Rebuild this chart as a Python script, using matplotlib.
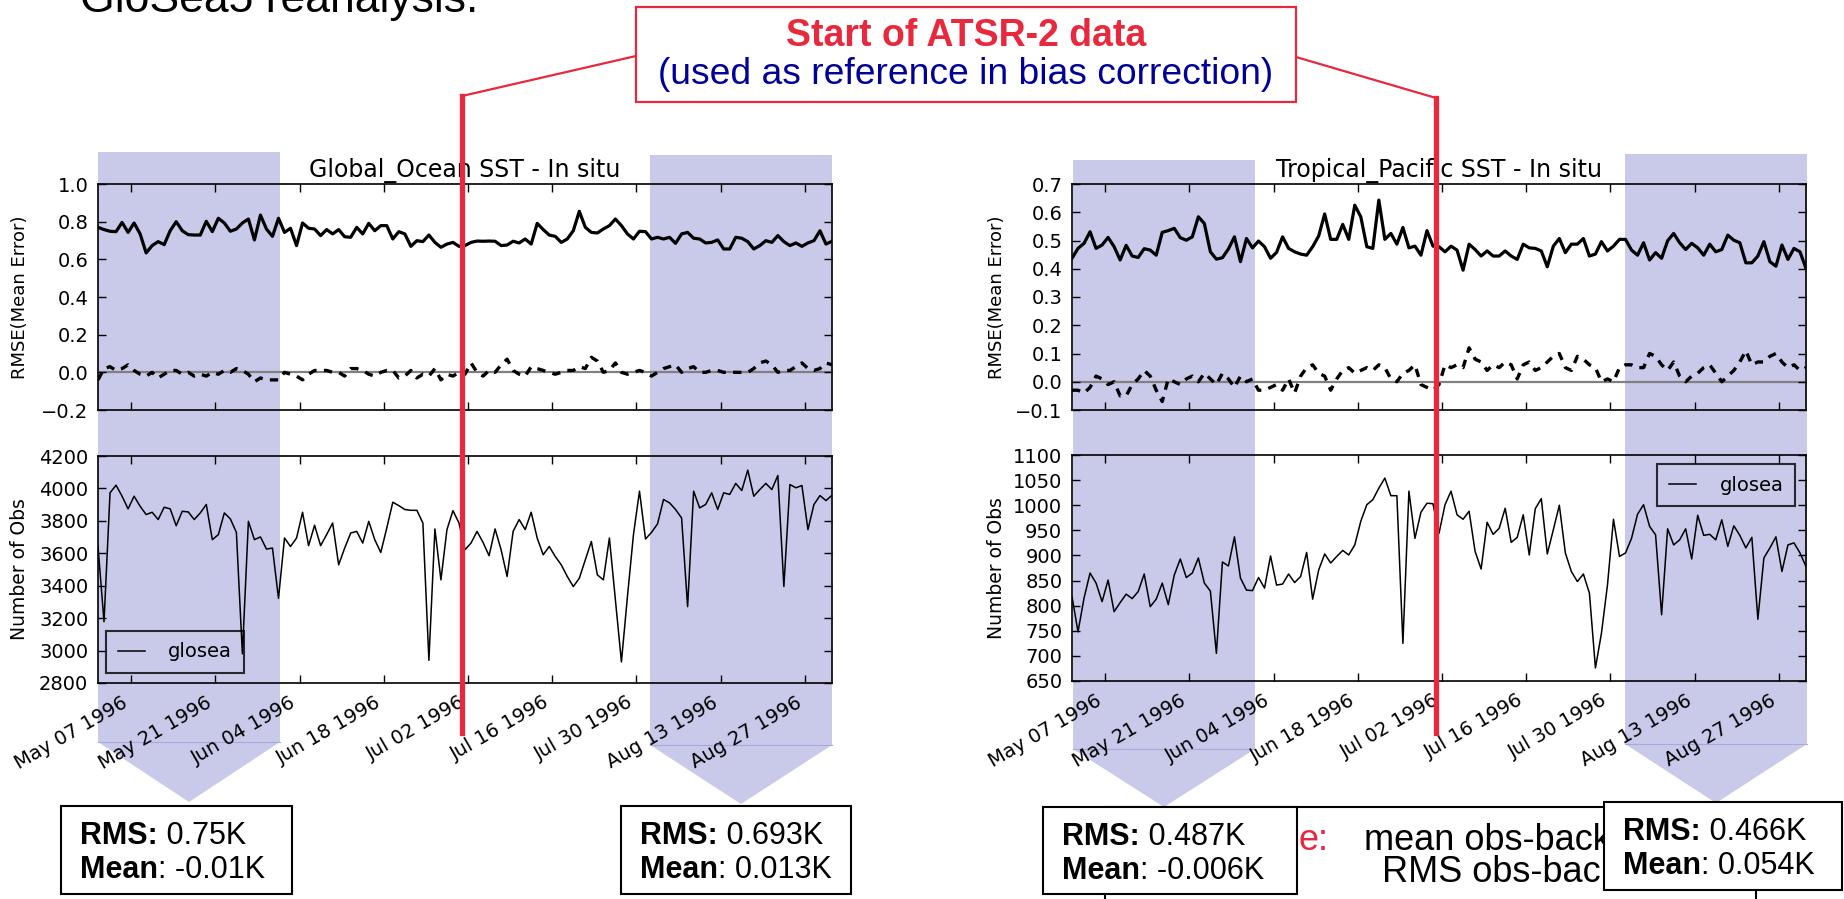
import numpy as np
import pandas as pd
import matplotlib
matplotlib.use('Agg')
import matplotlib.pyplot as plt
import matplotlib.dates as mdates
from matplotlib.patches import Polygon, Rectangle
from matplotlib.lines import Line2D
from matplotlib.text import Annotation

W, H = 1844, 899
RED = '#e8283c'
NAVY = '#000099'
BAND = '#c9c9ea'
SLIDE_FONT = ['Liberation Sans', 'DejaVu Sans']

# === data (daily) ===
dates = pd.date_range('1996-05-01 12:00', periods=123, freq='D')
tick_dates = pd.date_range('1996-05-07', periods=9, freq='14D')

glob_rmse = [0.770, 0.758, 0.749, 0.747, 0.796, 0.743, 0.793, 0.735, 0.634, 0.673,
             0.694, 0.678, 0.752, 0.800, 0.752, 0.731, 0.729, 0.729, 0.802, 0.747,
             0.818, 0.793, 0.749, 0.761, 0.793, 0.814, 0.703, 0.835, 0.761, 0.722,
             0.818, 0.743, 0.765, 0.673, 0.793, 0.765, 0.761, 0.726, 0.758, 0.735,
             0.758, 0.720, 0.717, 0.770, 0.735, 0.791, 0.752, 0.779, 0.779, 0.708,
             0.747, 0.735, 0.669, 0.699, 0.694, 0.729, 0.690, 0.664, 0.681, 0.690,
             0.669, 0.673,
             0.690, 0.697, 0.696, 0.697, 0.696, 0.673, 0.676, 0.696, 0.687, 0.708,
             0.681, 0.791, 0.758, 0.729, 0.722, 0.690, 0.708, 0.752, 0.855, 0.770,
             0.743, 0.740, 0.761, 0.779, 0.814, 0.779, 0.735, 0.708, 0.749, 0.747,
             0.708, 0.717, 0.708, 0.717, 0.685, 0.735, 0.743, 0.712, 0.708, 0.687,
             0.690, 0.703, 0.655, 0.655, 0.717, 0.712, 0.694, 0.655, 0.673, 0.699,
             0.690, 0.726, 0.694, 0.673, 0.687, 0.669, 0.687, 0.699, 0.752, 0.681,
             0.696]
glob_mean = [-0.04, 0.02, 0.03, 0.01, 0.02, 0.04, 0.01, -0.01, -0.02, 0.0,
             -0.03, -0.01, 0.01, 0.01, -0.01, 0.0, -0.02, -0.01, -0.02, 0.0,
             -0.01, 0.01, 0.0, 0.02, 0.01, -0.01, -0.05, -0.03, -0.04, -0.04,
             -0.04, 0.0, -0.01, -0.02, -0.04, -0.01, 0.01, 0.01, 0.01, 0.0,
             0.0, -0.02, 0.02, 0.02, 0.01, -0.01, -0.02, 0.0, 0.01, 0.01,
             -0.03, -0.02, 0.01, -0.03, -0.01, -0.02, 0.02, -0.04, -0.01, -0.02,
             0.0, -0.01,
             0.05, 0.0, -0.02, 0.01, 0.0, 0.04, 0.07, 0.01, -0.01, -0.02,
             0.03, 0.02, 0.01, 0.0, -0.01, 0.0, 0.01, 0.01, 0.03, 0.02,
             0.08, 0.06, 0.0, 0.01, 0.05, 0.0, -0.01, 0.0, 0.01, 0.0,
             -0.02, 0.0, 0.02, 0.03, 0.04, 0.0, 0.02, 0.03, 0.0, 0.0,
             0.01, 0.01, 0.0, 0.0, 0.0, 0.0, 0.0, 0.02, 0.05, 0.06,
             0.04, 0.0, 0.01, 0.01, 0.03, 0.05, 0.02, 0.01, 0.02, 0.05,
             0.04]
glob_nobs = [3642, 3178, 3973, 4020, 3952, 3874, 3952, 3890, 3839, 3853,
             3808, 3884, 3874, 3770, 3859, 3855, 3808, 3849, 3901, 3684,
             3715, 3849, 3812, 3729, 2980, 3797, 3684, 3701, 3626, 3632,
             3322, 3694, 3642, 3694, 3853, 3647, 3773, 3647, 3715, 3787,
             3529, 3632, 3725, 3735, 3663, 3797, 3684, 3605, 3756, 3915,
             3894, 3870, 3865, 3865, 3787, 2940, 3750, 3436, 3746, 3863,
             3787, 3622,
             3663, 3735, 3667, 3585, 3750, 3622, 3457, 3735, 3808, 3746,
             3853, 3694, 3591, 3642, 3580, 3529, 3457, 3395, 3446, 3560,
             3673, 3467, 3436, 3694, 3312, 2930, 3333, 3715, 3983, 3688,
             3729, 3781, 3932, 3911, 3870, 3818, 3271, 3983, 3880, 3901,
             3973, 3870, 3973, 3963, 4031, 3987, 4113, 3952, 3993, 4031,
             3993, 4080, 3395, 4024, 4004, 4018, 3746, 3901, 3956, 3925,
             3958]

trop_rmse = [0.437, 0.472, 0.490, 0.531, 0.472, 0.484, 0.511, 0.478, 0.431, 0.483,
             0.445, 0.440, 0.471, 0.466, 0.448, 0.529, 0.535, 0.543, 0.510, 0.501,
             0.513, 0.584, 0.560, 0.460, 0.434, 0.439, 0.470, 0.513, 0.425, 0.507,
             0.474, 0.498, 0.478, 0.437, 0.458, 0.513, 0.472, 0.460, 0.452, 0.448,
             0.478, 0.516, 0.594, 0.504, 0.504, 0.557, 0.504, 0.625, 0.584, 0.478,
             0.472, 0.643, 0.504, 0.525, 0.487, 0.546, 0.474, 0.480, 0.448, 0.535,
             0.480, 0.478,
             0.460, 0.480, 0.466, 0.395, 0.487, 0.468, 0.445, 0.463, 0.445, 0.445,
             0.463, 0.445, 0.433, 0.487, 0.474, 0.472, 0.463, 0.407, 0.480, 0.507,
             0.457, 0.487, 0.487, 0.507, 0.445, 0.452, 0.496, 0.463, 0.480, 0.504,
             0.504, 0.466, 0.448, 0.492, 0.431, 0.457, 0.437, 0.499, 0.525, 0.492,
             0.468, 0.490, 0.474, 0.448, 0.487, 0.460, 0.468, 0.519, 0.501, 0.492,
             0.421, 0.421, 0.445, 0.496, 0.425, 0.409, 0.484, 0.433, 0.472, 0.460,
             0.401]
trop_mean = [-0.03, -0.03, -0.04, -0.02, 0.02, 0.01, -0.01, 0.0, -0.05, -0.05,
             -0.01, 0.01, 0.04, 0.02, -0.03, -0.07, 0.01, 0.0, -0.01, 0.01,
             0.02, 0.0, 0.03, 0.01, -0.01, 0.03, 0.01, -0.02, 0.02, 0.0,
             0.01, -0.03, -0.03, -0.02, -0.01, -0.03, 0.01, -0.04, 0.02, 0.05,
             0.06, 0.03, 0.02, -0.03, 0.01, 0.04, 0.05, 0.03, 0.04, 0.05,
             0.04, 0.06, 0.05, 0.01, 0.0, 0.03, 0.04, 0.06, -0.01, -0.02,
             -0.03, -0.01,
             0.06, 0.05, 0.06, 0.05, 0.12, 0.08, 0.07, 0.04, 0.06, 0.05,
             0.07, 0.06, 0.01, 0.06, 0.07, 0.04, 0.05, 0.07, 0.09, 0.10,
             0.05, 0.04, 0.09, 0.08, 0.06, 0.05, 0.0, 0.01, 0.0, 0.05,
             0.06, 0.06, 0.05, 0.05, 0.10, 0.09, 0.06, 0.04, 0.07, 0.02,
             0.0, 0.02, 0.03, 0.05, 0.06, 0.03, 0.0, 0.02, 0.04, 0.07,
             0.11, 0.06, 0.07, 0.07, 0.09, 0.10, 0.07, 0.05, 0.06, 0.04,
             0.05]
trop_nobs = [818, 748, 815, 865, 845, 808, 851, 788, 806, 823,
             814, 828, 863, 798, 813, 845, 802, 861, 893, 856,
             865, 895, 845, 829, 705, 887, 879, 937, 855, 831,
             830, 856, 835, 899, 841, 843, 863, 846, 858, 906,
             813, 871, 903, 885, 898, 910, 901, 921, 968, 1001,
             1011, 1034, 1054, 1019, 1019, 725, 1028, 934, 986, 1004,
             1003, 944,
             1001, 1028, 981, 972, 988, 908, 873, 966, 942, 954,
             994, 926, 936, 981, 901, 993, 1013, 903, 951, 1000,
             905, 868, 848, 863, 825, 676, 745, 841, 972, 898,
             905, 934, 982, 1001, 958, 941, 782, 953, 921, 931,
             953, 893, 980, 940, 942, 931, 971, 918, 959, 940,
             915, 936, 773, 895, 915, 937, 868, 921, 925, 905,
             878]

glob_err_ticks = [-0.2, 0.0, 0.2, 0.4, 0.6, 0.8, 1.0]
glob_obs_ticks = [2800, 3000, 3200, 3400, 3600, 3800, 4000, 4200]
trop_err_ticks = [-0.1, 0.0, 0.1, 0.2, 0.3, 0.4, 0.5, 0.6, 0.7]
trop_obs_ticks = [650, 700, 750, 800, 850, 900, 950, 1000, 1050, 1100]

box_rms = ['0.75K', '0.693K', '0.487K', '0.466K']
box_mean = ['-0.01K', '0.013K', '-0.006K', '0.054K']

fig = plt.figure(figsize=(W / 100, H / 100), dpi=100)
fig.patch.set_facecolor('white')


def fx(x):
    return x / W


def fy(y):
    return 1 - y / H


def add_axes_px(x0, y0, x1, y1):
    ax = fig.add_axes([fx(x0), fy(y1), (x1 - x0) / W, (y1 - y0) / H])
    ax.set_facecolor('none')
    return ax


# === shaded periods with chevrons (behind the axes) ===
band_shapes = [(98, 280, 152, 742, 802), (650, 832, 155, 745, 804),
               (1073, 1255, 160, 749, 807), (1625, 1807, 154, 744, 803)]
for x0, x1, top, bot, tip in band_shapes:
    xm = (x0 + x1) / 2
    pts = [(fx(x0), fy(top)), (fx(x1), fy(top)), (fx(x1), fy(bot)),
           (fx(xm), fy(tip)), (fx(x0), fy(bot))]
    fig.add_artist(Polygon(pts, closed=True, transform=fig.transFigure,
                           fc=BAND, ec='none', zorder=-2))
    fig.add_artist(Line2D([fx(x0), fx(x1)], [fy(bot), fy(bot)], transform=fig.transFigure,
                          color='#a8a8e0', lw=0.8, zorder=-1))


def draw_panel(x0, x1, err_px, obs_px, title, rmse, mean, nobs,
               err_ticks, obs_ticks, leg_loc, leg_anchor, label_x):
    ax1 = add_axes_px(x0, err_px[0], x1, err_px[1])
    ax2 = add_axes_px(x0, obs_px[0], x1, obs_px[1])

    ax1.axhline(0, color='0.5', lw=1.6, zorder=1)
    ax1.plot(dates, rmse, color='black', lw=2.3, zorder=3)
    ax1.plot(dates, mean, color='black', lw=2.4, ls=(0, (2.5, 2.2)), zorder=3)
    ax2.plot(dates, nobs, color='black', lw=1.1, label='glosea')

    ax1.set_ylim(err_ticks[0], err_ticks[-1])
    ax1.set_yticks(err_ticks)
    ax2.set_ylim(obs_ticks[0], obs_ticks[-1])
    ax2.set_yticks(obs_ticks)
    for ax in (ax1, ax2):
        ax.set_xlim(dates[0], dates[-1])
        ax.set_xticks(tick_dates)
        ax.xaxis.set_major_formatter(mdates.DateFormatter('%b %d %Y'))
        ax.tick_params(direction='in', length=6, width=1, top=True, right=True,
                       labelsize=14, pad=7)
        for s in ax.spines.values():
            s.set_linewidth(1.2)
    ax1.tick_params(labelbottom=False)
    for lab in ax2.get_xticklabels():
        lab.set_rotation(30)
        lab.set_ha('right')

    ax1.set_title(title, fontsize=17, pad=5)
    ax1.set_ylabel('RMSE(Mean Error)', fontsize=13)
    ax2.set_ylabel('Number of Obs', fontsize=13.5)
    ax1.yaxis.set_label_coords(label_x, 0.5)
    ax2.yaxis.set_label_coords(label_x, 0.5)

    leg = ax2.legend(loc=leg_loc, bbox_to_anchor=leg_anchor, borderaxespad=0,
                     fancybox=False, fontsize=14, handlelength=1.4,
                     handletextpad=1.2, borderpad=0.6)
    leg.get_frame().set_edgecolor('black')
    leg.get_frame().set_facecolor('none')
    leg.get_frame().set_linewidth(1.5)


draw_panel(98, 832, (184, 410), (456, 683), 'Global_Ocean SST - In situ',
           glob_rmse, glob_mean, glob_nobs, glob_err_ticks, glob_obs_ticks,
           'lower left', (0.011, 0.044), -0.094)
draw_panel(1072, 1806, (184, 410), (455, 681), 'Tropical_Pacific SST - In situ',
           trop_rmse, trop_mean, trop_nobs, trop_err_ticks, trop_obs_ticks,
           'upper right', (0.985, 0.96), -0.090)

# === slide annotations ===
fig.text(fx(80), fy(12), 'GloSea5 reanalysis.', fontsize=32, family=SLIDE_FONT,
         ha='left', va='baseline')

for xs, ys in [([462, 462], [96, 733]), ([1436, 1436], [98, 733])]:
    fig.add_artist(Line2D([fx(v) for v in xs], [fy(v) for v in ys], transform=fig.transFigure,
                          color=RED, lw=3.8, zorder=10))
for xs, ys in [([462, 636], [96, 56]), ([1296, 1436], [57, 98])]:
    fig.add_artist(Line2D([fx(v) for v in xs], [fy(v) for v in ys], transform=fig.transFigure,
                          color=RED, lw=1.6, zorder=10))
fig.add_artist(Rectangle((fx(636), fy(102)), (1296 - 636) / W, (102 - 7) / H,
                         transform=fig.transFigure, fc='white', ec=RED, lw=1.6, zorder=11))
fig.text(fx(966), fy(36), 'Start of ATSR-2 data', color=RED, fontsize=27, fontweight='bold',
         family=SLIDE_FONT, ha='center', va='center', zorder=12)
fig.text(fx(966), fy(75), '(used as reference in bias correction)', color=NAVY, fontsize=26.8,
         family=SLIDE_FONT, ha='center', va='center', zorder=12)

# key box partly hidden behind the stats boxes (only the visible part of its text)
fig.add_artist(Rectangle((fx(1105), fy(930)), (1756 - 1105) / W, (930 - 807) / H,
                         transform=fig.transFigure, fc='white', ec='black', lw=1.5, zorder=1))
fig.text(fx(1329), fy(840), 'e:', color=RED, fontsize=26, family=SLIDE_FONT,
         ha='right', va='center', zorder=2)
fig.text(fx(1364), fy(840), 'mean obs-back', fontsize=26, family=SLIDE_FONT,
         ha='left', va='center', zorder=2)
fig.text(fx(1382), fy(872), 'RMS obs-backg', fontsize=26, family=SLIDE_FONT,
         ha='left', va='center', zorder=2)

box_rects = [(61, 806, 292, 894), (621, 806, 851, 894), (1043, 807, 1297, 894), (1604, 802, 1842, 890)]
for (x0, y0, x1, y1), rms, mean in zip(box_rects, box_rms, box_mean):
    fig.add_artist(Rectangle((fx(x0), fy(y1)), (x1 - x0) / W, (y1 - y0) / H,
                             transform=fig.transFigure, fc='white', ec='black', lw=1.5, zorder=3))
    for dy, head, tail in [(30, 'RMS:', ' ' + rms), (64, 'Mean', ': ' + mean)]:
        t = fig.text(fx(x0 + 19), fy(y0 + dy), head, fontsize=22, fontweight='bold',
                     family=SLIDE_FONT, ha='left', va='center', zorder=4)
        a = Annotation(tail, xy=(1, 0.5), xycoords=t, fontsize=22, family=SLIDE_FONT,
                       ha='left', va='center', zorder=4)
        fig.add_artist(a)

fig.savefig('out.png', dpi=100, facecolor='white')
